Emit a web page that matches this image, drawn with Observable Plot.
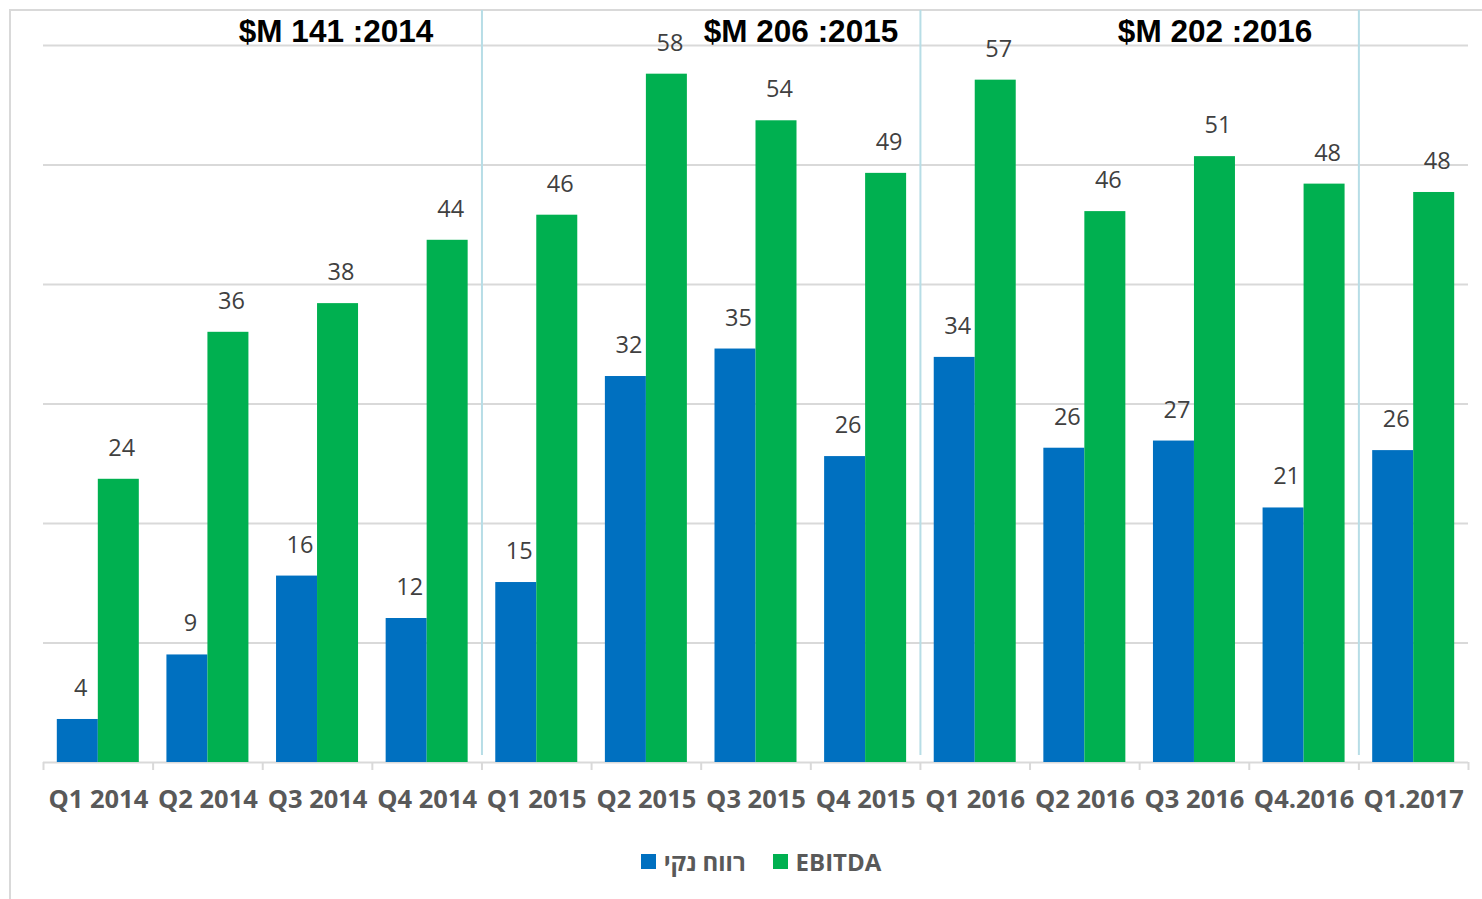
<!DOCTYPE html>
<html>
<head>
<meta charset="utf-8">
<script src="https://cdn.jsdelivr.net/npm/d3@7"></script>
<script src="https://cdn.jsdelivr.net/npm/@observablehq/plot@0.6"></script>
<style>
html,body{margin:0;padding:0;background:#fff;overflow:hidden;width:1482px;height:899px;}
#frame{position:absolute;left:9px;top:9px;width:2000px;height:2000px;border-left:2px solid #d9d9d9;border-top:2px solid #d9d9d9;}
#chart{position:absolute;left:0;top:0;width:1482px;}
#legend{position:absolute;left:0;top:845px;width:1482px;height:32px;display:flex;align-items:center;justify-content:center;padding-left:40px;box-sizing:border-box;font-family:"Open Sans",sans-serif;font-size:24px;font-weight:bold;color:#595959;}
#legend .sw{width:15px;height:15px;display:inline-block;}
#legend .it{display:flex;align-items:center;}
</style>
</head>
<body>
<div id="frame"></div>
<div id="chart"></div>
<div id="legend"></div>
<script>
// ---- data ----
const categories = ["Q1 2014","Q2 2014","Q3 2014","Q4 2014","Q1 2015","Q2 2015","Q3 2015","Q4 2015","Q1 2016","Q2 2016","Q3 2016","Q4.2016","Q1.2017"];
const netProfit = [3.6, 9.0, 15.6, 12.05, 15.06, 32.3, 34.6, 25.6, 33.9, 26.3, 26.9, 21.3, 26.1];
const ebitda = [23.7, 36.0, 38.4, 43.7, 45.8, 57.6, 53.7, 49.3, 57.1, 46.1, 50.7, 48.4, 47.7];
const seriesNames = ["רווח נקי", "EBITDA"];
const seriesColors = ["#0070C0", "#00B050"];
const gridValues = [0, 10, 20, 30, 40, 50, 60];
const separatorCats = ["Q1 2015", "Q1 2016", "Q1.2017"];
const yearTotals = ["$M 141 :2014", "$M 206 :2015", "$M 202 :2016"];
const yearAnchors = ["Q3 2014", "Q3 2015", "Q3 2016"];

const rows = categories.map((c, i) => ({cat: c, net: netProfit[i], ebitda: ebitda[i]}));

// ---- layout ----
const W = 1482, H = 830;
const mL = 43, mR = 14, mT = 45, baseY = 762, mB = H - baseY;
const band = (W - mL - mR) / categories.length;
const barW = 41;
const fmt = d3.format(".0f");
const valFont = {fontFamily: "'Open Sans', sans-serif", fontSize: 23.5, fill: "#404040"};
const yearFont = {fontFamily: "'Liberation Sans', Arial, sans-serif", fontSize: 31.5, fontWeight: "bold", fill: "#000"};
const yearDx = [18.5, 45, 20.6];

const chart = Plot.plot({
  width: W, height: H,
  marginLeft: mL, marginRight: mR, marginTop: mT, marginBottom: mB,
  x: {domain: categories, padding: 0, round: false, axis: null},
  y: {domain: [0, 60], axis: null},
  marks: [
    Plot.ruleY(gridValues, {stroke: "#d9d9d9", strokeWidth: 2}),
    Plot.ruleX(categories, {x: d => d, y1: () => 0, y2: () => 0, dx: -band / 2, insetBottom: -8, stroke: "#d9d9d9", strokeWidth: 2}),
    Plot.ruleX(categories.slice(-1), {x: d => d, y1: () => 0, y2: () => 0, dx: band / 2, insetBottom: -8, stroke: "#d9d9d9", strokeWidth: 2}),
    Plot.ruleX(separatorCats, {x: d => d, y1: () => 0, y2: () => 60, dx: -band / 2, insetTop: -7, insetBottom: 35, stroke: "#b7dde6", strokeWidth: 2}),
    Plot.barY(rows, {x: "cat", y: "net", fill: seriesColors[0], insetLeft: band / 2 - barW, insetRight: band / 2}),
    Plot.barY(rows, {x: "cat", y: "ebitda", fill: seriesColors[1], insetLeft: band / 2, insetRight: band / 2 - barW}),
    Plot.text(rows, {x: "cat", y: "net", text: d => fmt(d.net), dy: -31, dx: -barW / 2 + 3, ...valFont}),
    Plot.text(rows, {x: "cat", y: "ebitda", text: d => fmt(d.ebitda), dy: -31, dx: barW / 2 + 3, ...valFont}),
    Plot.text(categories, {x: d => d, y: () => 0, text: d => d, dy: 37, fontFamily: "'Open Sans', sans-serif", fontSize: 25.5, fontWeight: "bold", fill: "#595959"}),
    ...yearTotals.map((t, i) => Plot.text([t], {x: () => yearAnchors[i], y: () => 60, text: d => d, dy: -14, dx: yearDx[i], ...yearFont}))
  ]
});
chart.style.background = "transparent";
document.getElementById("chart").appendChild(chart);

// ---- legend ----
const legend = document.getElementById("legend");
seriesNames.forEach((name, i) => {
  const it = document.createElement("div");
  it.className = "it";
  it.style.marginRight = i === 0 ? "27px" : "0";
  const sw = document.createElement("span");
  sw.className = "sw";
  sw.style.background = seriesColors[i];
  sw.style.marginRight = "8px";
  const tx = document.createElement("span");
  tx.textContent = name;
  if (i === 0) { tx.dir = "rtl"; }
  it.appendChild(sw); it.appendChild(tx);
  legend.appendChild(it);
});
</script>
</body>
</html>
